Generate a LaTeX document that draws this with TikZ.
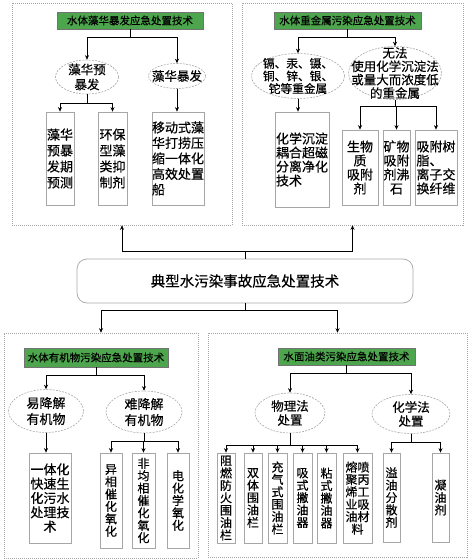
\documentclass[tikz,border=0pt]{standalone}
\usepackage{fontspec}
\setmainfont{Noto Sans CJK SC}[FakeBold=0.4]
\usetikzlibrary{shapes.geometric,arrows.meta}
\definecolor{tgreen}{HTML}{4DA64D}
\begin{document}
\begin{tikzpicture}[x=1pt,y=-1pt]
\tikzset{
 panel/.style={draw=gray!70, dash pattern=on 1pt off 1pt, line width=0.6pt, inner sep=0pt},
 ttl/.style={draw=black!55, fill=tgreen, inner sep=0pt, line width=0.6pt, font=\fontsize{10.5}{12}\selectfont},
 ell/.style={ellipse, draw=gray!70, dash pattern=on 2pt off 1.2pt, line width=0.6pt, inner sep=0pt},
 etx/.style={align=center, inner sep=0pt, font=\fontsize{12.5}{15}\selectfont},
 bx/.style={draw=gray!70, line width=0.7pt, fill=white, inner sep=0pt, align=center, font=\fontsize{13}{15.5}\selectfont},
 vbx/.style={bx, font=\fontsize{12}{12.4}\selectfont},
 arr/.style={-{Stealth[length=4.5pt,width=4pt]}, line width=0.8pt},
 ln/.style={line width=0.8pt}
}
\useasboundingbox (0,0) rectangle (472,559);

% ---------- top-left panel ----------
\node[panel, minimum width=220pt, minimum height=222pt] (P1) at (122,114) {};
\node[ttl, minimum width=146pt, minimum height=17pt] (T1) at (130,20.5) {水体藻华暴发应急处置技术};
\node[ell, minimum width=63pt, minimum height=34pt, label={[etx]center:{藻华预\\暴发}}] (E1) at (87,77) {};
\node[ell, minimum width=57pt, minimum height=25pt, label={[etx]center:{藻华暴发}}] (E2) at (177,76) {};
\node[bx, minimum width=28pt, minimum height=93pt, font=\fontsize{13}{16}\selectfont] (B1) at (60,158.5) {藻华\\预暴\\发期\\预测};
\node[bx, minimum width=29pt, minimum height=93pt, font=\fontsize{13}{16}\selectfont] (B2) at (112.5,158.5) {环保\\型藻\\类抑\\制剂};
\node[bx, align=left, minimum width=52pt, minimum height=93pt] (B3) at (178,158.5) {移动式藻\\华打捞压\\缩一体化\\高效处置\\船};
\draw[ln] (T1.south) -- ++(0,8) coordinate (J1);
\draw[arr] (J1) -| (E1.north);
\draw[arr] (J1) -| (E2.north);
\draw[ln] (E1.south) -- ++(0,9) coordinate (J2);
\draw[arr] (J2) -| (B1.north);
\draw[arr] (J2) -| (B2.north);
\draw[arr] (E2.south) -- (E2.south |- B3.north);

% ---------- top-right panel ----------
\node[panel, minimum width=221pt, minimum height=222pt] (P2) at (352.5,114) {};
\node[ttl, minimum width=147pt, minimum height=17pt] (T2) at (347.5,20.5) {水体重金属污染应急处置技术};
\node[ell, minimum width=93pt, minimum height=45pt, label={[etx, font=\fontsize{11.7}{12.6}\selectfont]center:{镉、汞、镊、\\铜、锌、银、\\铊等重金属}}] (E3) at (298,76) {};
\node[ell, minimum width=93pt, minimum height=53pt, label={[etx, font=\fontsize{12.5}{13.4}\selectfont]center:{无法\\使用化学沉淀法\\或量大而浓度低\\的重金属}}] (E4) at (395,73) {};
\node[bx, align=left, minimum width=54pt, minimum height=95pt, font=\fontsize{13}{14}\selectfont] (B4) at (302,159.5) {化学沉淀\\耦合超磁\\分离净化\\技术};
\node[bx, minimum width=36pt, minimum height=75pt, font=\fontsize{13}{14}\selectfont] (B5) at (360,167.5) {生物\\质\\吸附\\剂};
\node[bx, minimum width=27pt, minimum height=75pt, font=\fontsize{13}{14}\selectfont] (B6) at (396.5,167.5) {矿物\\吸附\\剂沸\\石};
\node[bx, align=left, minimum width=42pt, minimum height=75pt, font=\fontsize{13}{14}\selectfont] (B7) at (436,167.5) {吸附树\\脂、\\离子交\\换纤维};
\draw[ln] (T2.south) -- ++(0,8) coordinate (J3);
\draw[arr] (J3) -| (E3.north);
\draw[arr] (J3) -| (E4.north);
\draw[arr] (E3.south) -- (E3.south |- B4.north);
\draw[ln] (E4.south) -- ++(0,7) coordinate (J4);
\draw[arr] (J4) -| (B5.north);
\draw[arr] (J4) -| (B6.north);
\draw[arr] (J4) -| (B7.north);

% ---------- main ----------
\node[draw=gray!70, rounded corners=10pt, line width=0.7pt, inner sep=0pt, minimum width=336pt, minimum height=44pt, font=\fontsize{14.5}{16}\selectfont] (M) at (245,281) {典型水污染事故应急处置技术};

% ---------- bottom panels ----------
\node[panel, minimum width=194pt, minimum height=225pt] (P3) at (101,445.5) {};
\node[panel, minimum width=259pt, minimum height=224pt] (P4) at (337.5,445) {};

\draw[ln] (M.north) -- ++(0,-7) coordinate (J5);
\draw[arr] (J5) -| (P1.south);
\draw[arr] (J5) -| (P2.south);
\draw[ln] (M.south) -- ++(0,7) coordinate (J6);
\draw[arr] (J6) -| (P3.north);
\draw[arr] (J6) -| (P4.north);

% ---------- bottom-left panel ----------
\node[ttl, minimum width=144pt, minimum height=19pt] (T3) at (96,357.5) {水体有机物污染应急处置技术};
\node[ell, minimum width=75pt, minimum height=43pt, label={[etx, font=\fontsize{13}{16}\selectfont]center:{易降解\\有机物}}] (E5) at (46,411) {};
\node[ell, minimum width=76pt, minimum height=42pt, label={[etx, font=\fontsize{13}{16}\selectfont]center:{难降解\\有机物}}] (E6) at (144,412) {};
\node[bx, minimum width=42pt, minimum height=90pt, font=\fontsize{13}{14.3}\selectfont] (B8) at (50,498) {一体化\\快速生\\化污水\\处理技\\术};
\node[vbx, minimum width=22pt, minimum height=95pt] (B9) at (111,500.5) {异\\相\\催\\化\\氧\\化};
\node[vbx, minimum width=23pt, minimum height=95pt] (B10) at (143.5,500.5) {非\\均\\相\\催\\化\\氧\\化};
\node[vbx, minimum width=22pt, minimum height=95pt] (B11) at (178,500.5) {电\\化\\学\\氧\\化};
\draw[ln] (T3.south) -- ++(0,8) coordinate (J7);
\draw[arr] (J7) -| (E5.north);
\draw[arr] (J7) -| (E6.north);
\draw[arr] (E5.south) -- (E5.south |- B8.north);
\draw[ln] (E6.south) -- ++(0,8) coordinate (J8);
\draw[arr] (J8) -| (B9.north);
\draw[arr] (J8) -| (B10.north);
\draw[arr] (J8) -| (B11.north);

% ---------- bottom-right panel ----------
\node[ttl, minimum width=137pt, minimum height=17pt] (T4) at (346.5,356.5) {水面油类污染应急处置技术};
\node[ell, minimum width=70pt, minimum height=40pt, label={[etx, font=\fontsize{12.5}{14}\selectfont]center:{物理法\\处置}}] (E7) at (290,413) {};
\node[ell, minimum width=78pt, minimum height=39pt, label={[etx, font=\fontsize{12.5}{14}\selectfont]center:{化学法\\处置}}] (E8) at (411,414) {};
\node[vbx, minimum width=18pt, minimum height=90pt] (B12) at (226,498) {阻\\燃\\防\\火\\围\\油\\栏};
\node[vbx, minimum width=18pt, minimum height=90pt] (B13) at (253,498) {双\\体\\围\\油\\栏};
\node[vbx, minimum width=19pt, minimum height=90pt] (B14) at (277.5,498) {充\\气\\式\\围\\油\\栏};
\node[vbx, minimum width=19pt, minimum height=90pt] (B15) at (302.5,498) {吸\\式\\撇\\油\\器};
\node[vbx, minimum width=19pt, minimum height=90pt] (B16) at (326.5,498) {粘\\式\\撇\\油\\器};
\node[vbx, minimum width=29pt, minimum height=90pt] (B17) at (357.5,498) {熔喷\\聚丙\\烯工\\业吸\\油材\\料};
\node[vbx, minimum width=17pt, minimum height=89pt] (B18) at (391.5,497.5) {溢\\油\\分\\散\\剂};
\node[vbx, minimum width=17pt, minimum height=89pt] (B19) at (440.5,497.5) {凝\\油\\剂};
\draw[ln] (T4.south) -- ++(0,8) coordinate (J9);
\draw[arr] (J9) -| (E7.north);
\draw[arr] (J9) -| (E8.north);
\draw[ln] (E7.south) -- ++(0,12) coordinate (J10);
\foreach \b in {B12,B13,B14,B15,B16,B17} \draw[arr] (J10) -| (\b.north);
\draw[ln] (E8.south) -- ++(0,9) coordinate (J11);
\draw[arr] (J11) -| (B18.north);
\draw[arr] (J11) -| (B19.north);
\end{tikzpicture}
\end{document}
